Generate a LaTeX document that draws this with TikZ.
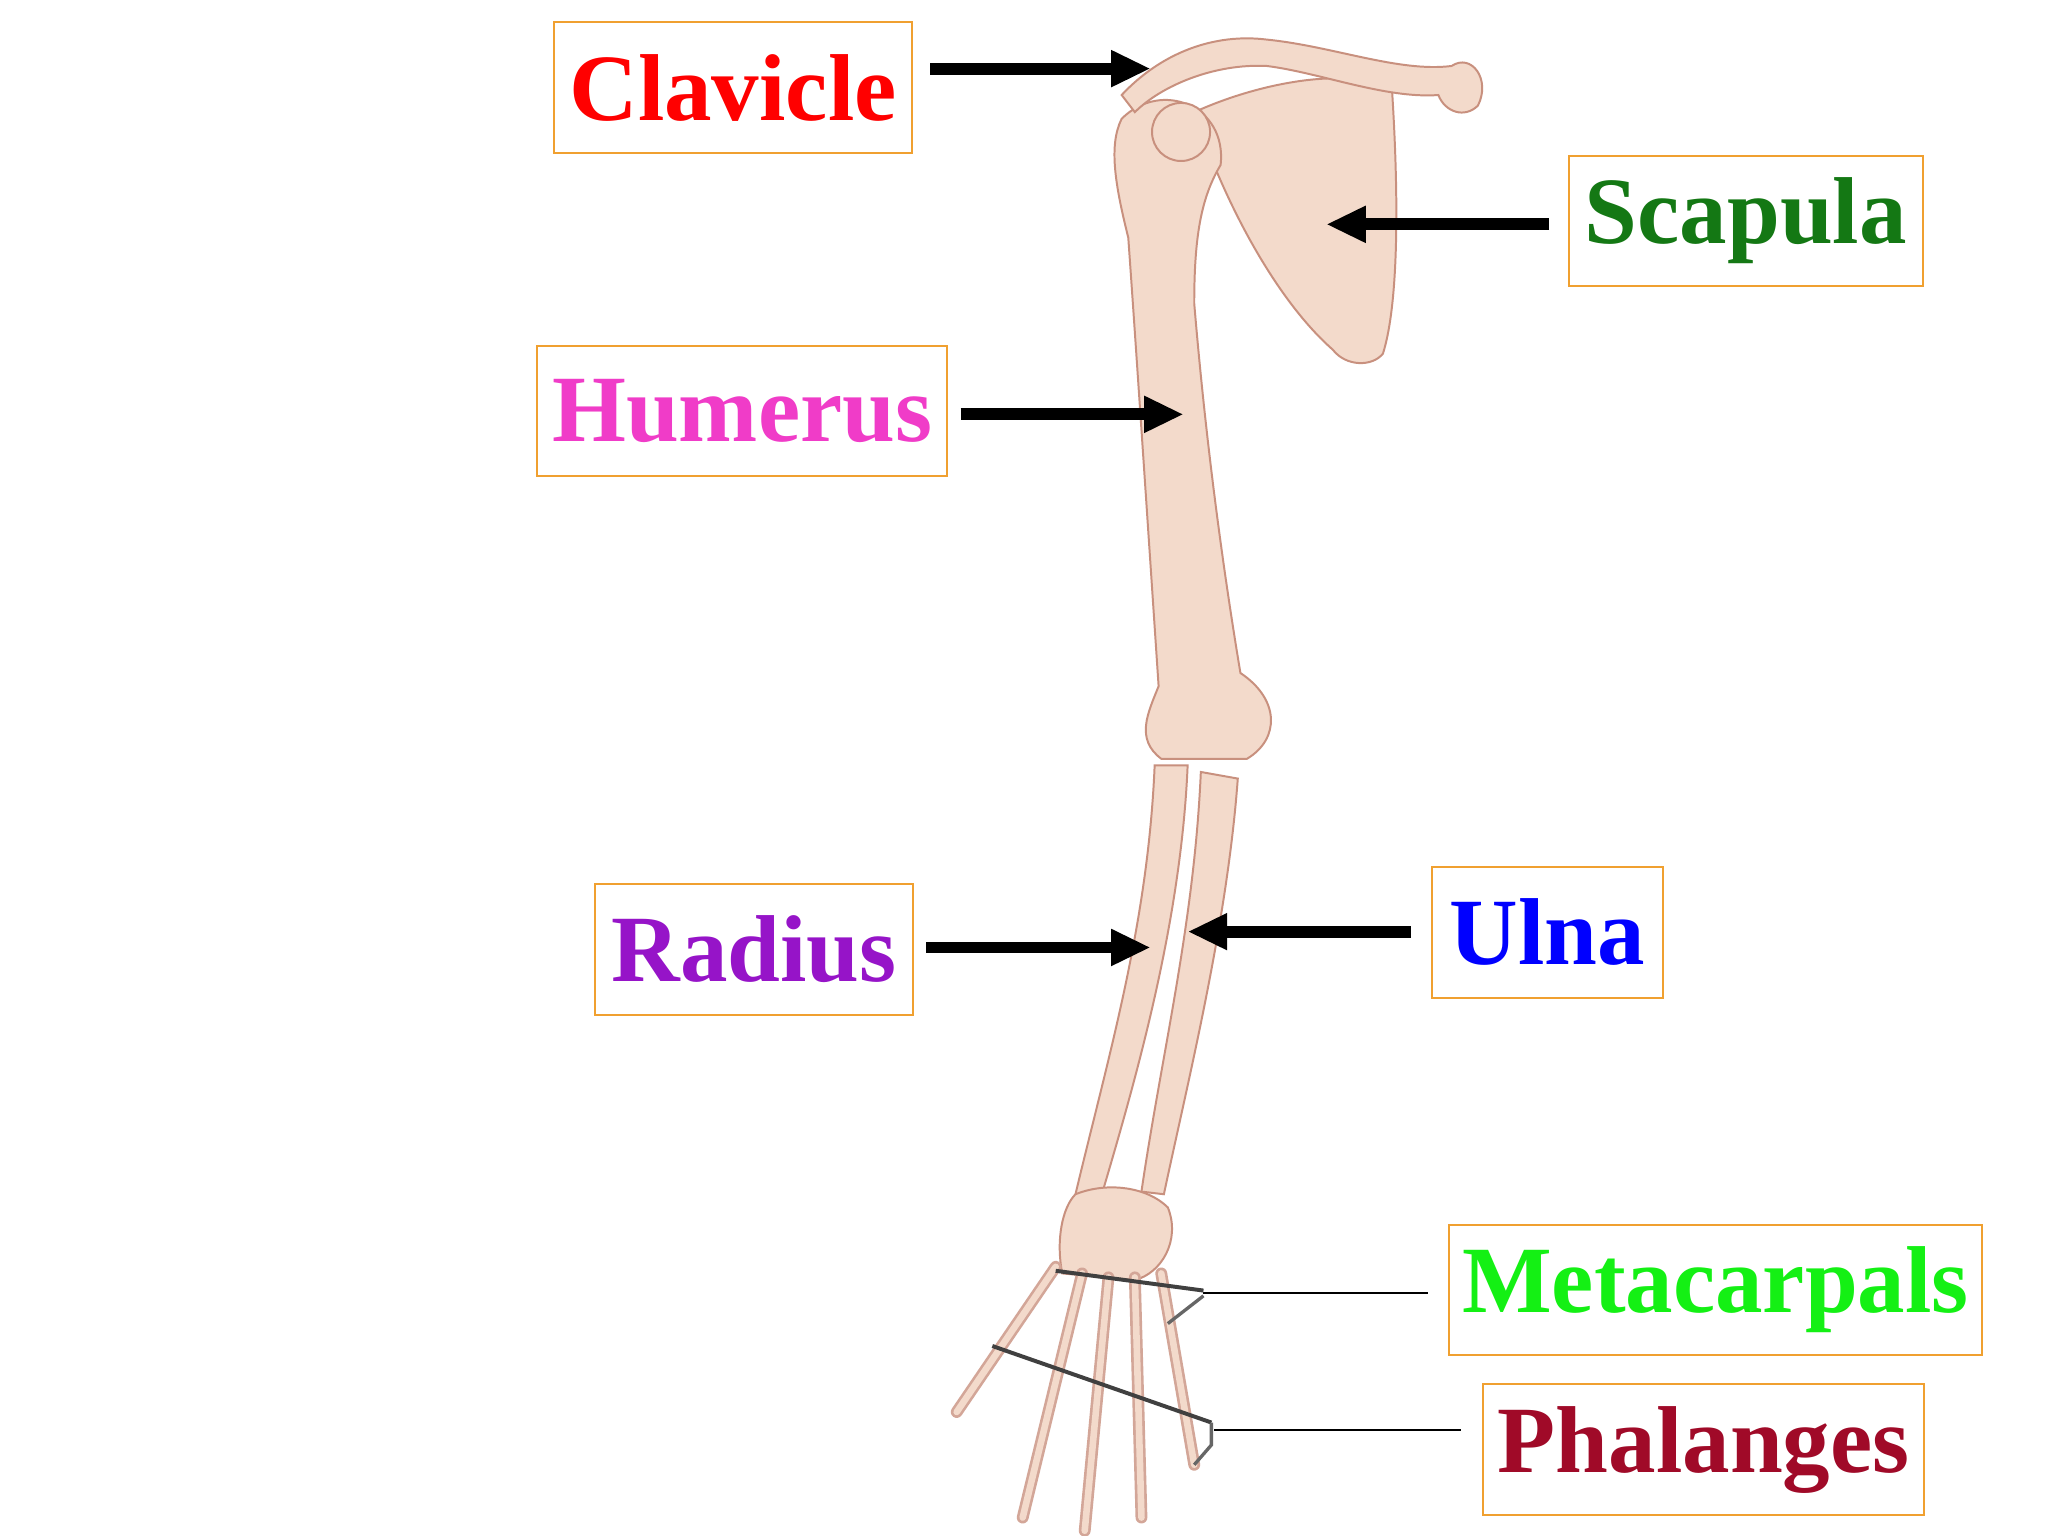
\documentclass[tikz,border=0pt]{standalone}
\usepackage{fontspec}
\setmainfont{Liberation Serif}
\usetikzlibrary{arrows.meta}
\definecolor{bone}{HTML}{F3DACB}
\definecolor{boneline}{HTML}{C8907E}
\definecolor{boxc}{HTML}{F0A030}
\tikzset{x=1pt,y=-1pt,
 lbl/.style={draw=boxc,line width=1.5pt,inner sep=0pt,font=\fontsize{72}{76}\selectfont\bfseries},
 bigarrow/.style={line width=9pt,-{Triangle[length=30pt,width=26pt]}},
 thin/.style={line width=1.5pt},
 bonef/.style={fill=bone,draw=boneline,line width=1.5pt},
 finger/.style={line cap=round,line width=9pt,draw=boneline!80},
 fingerin/.style={line cap=round,line width=5pt,draw=bone}}
\begin{document}
\begin{tikzpicture}
\useasboundingbox (0,0) rectangle (1552,1164);
\fill[white] (0,0) rectangle (1552,1164);
% scapula
\draw[bonef] (905,85) .. controls (960,60) and (1030,50) .. (1055,70) .. controls (1060,150) and (1060,230) .. (1048,268) .. controls (1040,278) and (1020,278) .. (1010,265) .. controls (970,230) and (930,160) .. (905,85) -- cycle;
% humerus
\draw[bonef] (850,90) .. controls (880,60) and (930,80) .. (925,125) .. controls (910,150) and (905,180) .. (905,230) .. controls (915,350) and (930,450) .. (940,510) .. controls (970,530) and (970,560) .. (945,575) -- (880,575) .. controls (860,560) and (870,540) .. (878,520) .. controls (870,400) and (860,250) .. (855,180) .. controls (845,140) and (840,110) .. (850,90) -- cycle;
\draw[bonef] (895,100) circle (22);
% clavicle
\draw[bonef] (850,72) .. controls (880,40) and (920,25) .. (960,30) .. controls (1010,35) and (1060,55) .. (1100,50) .. controls (1115,40) and (1130,60) .. (1120,80) .. controls (1110,90) and (1095,85) .. (1090,72) .. controls (1050,75) and (1000,55) .. (960,50) .. controls (920,48) and (880,65) .. (860,85) -- cycle;
% radius and ulna
\draw[bonef] (875,580) -- (900,580) .. controls (895,700) and (860,820) .. (835,905) -- (815,905) .. controls (840,800) and (870,700) .. (875,580) -- cycle;
\draw[bonef] (910,585) -- (938,590) .. controls (930,700) and (900,820) .. (882,905) -- (865,903) .. controls (880,800) and (905,700) .. (910,585) -- cycle;
% carpals
\draw[bonef] (815,905) .. controls (840,895) and (870,900) .. (885,915) .. controls (895,940) and (880,965) .. (860,970) -- (805,965) .. controls (800,940) and (805,915) .. (815,905) -- cycle;
% fingers
\foreach \a/\b/\c/\d in {800/960/725/1070, 820/965/775/1150, 840/968/822/1160, 860/968/865/1150, 880/965/905/1110}{
  \draw[finger] (\a,\b) -- (\c,\d);
  \draw[fingerin] (\a,\b) -- (\c,\d);
}
% labels
\node[lbl,text=red,minimum width=271pt,minimum height=99pt] (clav) at (555.5,66.5) {Clavicle};
\node[lbl,text={rgb,255:red,20;green,120;blue,20},minimum width=268pt,minimum height=99pt] (scap) at (1323,167.5) {Scapula};
\node[lbl,text={rgb,255:red,240;green,60;blue,200},minimum width=311pt,minimum height=99pt] (hum) at (562.5,311.5) {Humerus};
\node[lbl,text={rgb,255:red,150;green,20;blue,200},minimum width=241pt,minimum height=99pt] (rad) at (571.5,719.5) {Radius};
\node[lbl,text=blue,minimum width=175pt,minimum height=99pt] (ulna) at (1172.5,706.5) {Ulna};
\node[lbl,text={rgb,255:red,20;green,240;blue,20},minimum width=404pt,minimum height=99pt] (meta) at (1300,977.5) {Metacarpals};
\node[lbl,text={rgb,255:red,160;green,10;blue,40},minimum width=334pt,minimum height=99pt] (phal) at (1291,1098.5) {Phalanges};
% target points
\coordinate (tclav) at (872,52);
\coordinate (tscap) at (1005,170);
\coordinate (thum) at (897,314);
\coordinate (trad) at (872,718);
\coordinate (tulna) at (900,706);
\coordinate (tmeta) at (912,980);
\coordinate (tphal) at (920,1084);
\draw[bigarrow] (705,52) -- (tclav);
\draw[bigarrow] (1174,170) -- (tscap);
\draw[bigarrow] (728,314) -- (thum);
\draw[bigarrow] (702,718) -- (trad);
\draw[bigarrow] (1069,706) -- (tulna);
\draw[thin] (1082,980) -- (tmeta);
\draw[thin] (1107,1084) -- (tphal);
% brackets
\draw[line width=3pt,black!75] (800,963) -- (912,978);
\draw[line width=2.5pt,black!60] (912,982) -- (885,1003);
\draw[line width=3pt,black!75] (752,1020) -- (918,1078);
\draw[line width=2.5pt,black!60] (918,1078) -- (918,1095) -- (905,1110);
\end{tikzpicture}
\end{document}
